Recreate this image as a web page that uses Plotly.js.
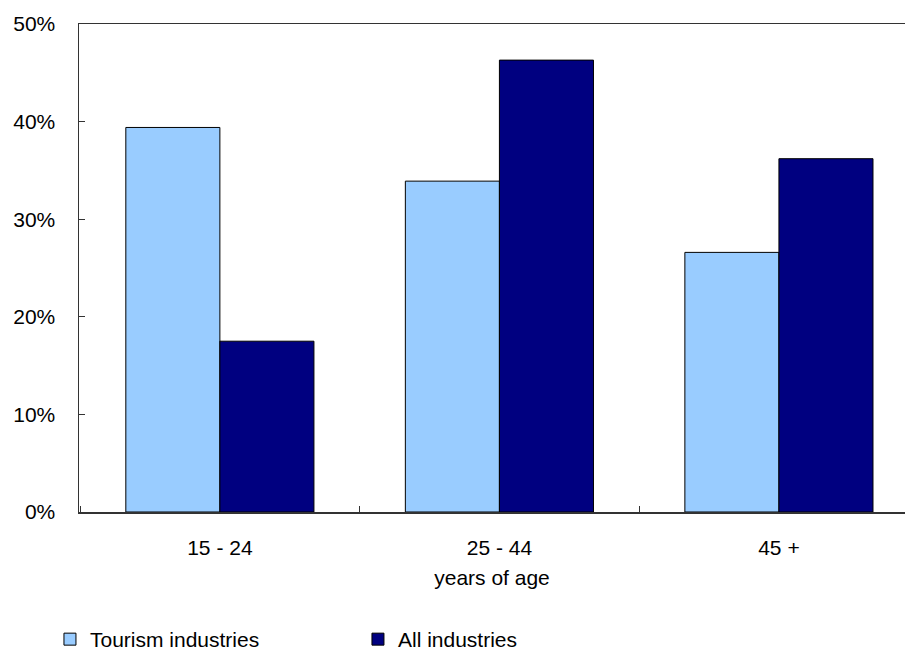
<!DOCTYPE html>
<html>
<head>
<meta charset="utf-8">
<script src="https://cdn.plot.ly/plotly-3.0.1.min.js"></script>
<style>html,body{margin:0;padding:0;background:#fff;}#chart{width:905px;height:656px;}</style>
</head>
<body>
<div id="chart"></div>
<script>
var categories = ["15 - 24", "25 - 44", "45 +"];
var tourismValues = [39.4, 33.9, 26.6];
var allValues = [17.5, 46.3, 36.2];
var seriesNames = ["Tourism industries", "All industries"];
var yTickVals = [0, 10, 20, 30, 40, 50];
var yTickText = ["0%", "10%", "20%", "30%", "40%", "50%"];

var traces = [
  {type: "bar", name: seriesNames[0], x: categories, y: tourismValues,
   marker: {color: "#99CCFF", line: {color: "#000000", width: 1}}, hoverinfo: "none"},
  {type: "bar", name: seriesNames[1], x: categories, y: allValues,
   marker: {color: "#000080", line: {color: "#000000", width: 1}}, hoverinfo: "none"}
];

var layout = {
  width: 905, height: 656,
  margin: {l: 79, r: 0, t: 24, b: 144, autoexpand: false},
  paper_bgcolor: "#ffffff", plot_bgcolor: "#ffffff",
  font: {family: "Liberation Sans, Arial, sans-serif", size: 21, color: "#000000"},
  barmode: "group", bargap: 0.327, bargroupgap: 0,
  showlegend: true,
  legend: {orientation: "h", x: 0.0552, xref: "container", xanchor: "left", y: 0.0564, yref: "container", yanchor: "top",
           font: {size: 21}, entrywidth: 263, entrywidthmode: "pixels", traceorder: "normal"},
  xaxis: {type: "category", range: [-0.504, 2.451], showline: true, linecolor: "#333333", linewidth: 1.5,
          mirror: true, ticks: "inside", ticklen: 6, tickcolor: "#333333", tickson: "boundaries",
          showgrid: false, zeroline: false, fixedrange: true, ticklabelstandoff: 16, automargin: false,
          title: {text: "years of age", standoff: 12, font: {size: 21}}},
  yaxis: {range: [0, 50], tickvals: yTickVals, ticktext: yTickText, showline: true, linecolor: "#333333",
          linewidth: 1.5, mirror: false, ticks: "inside", ticklen: 6, tickcolor: "#333333", automargin: false,
          showgrid: false, zeroline: false, fixedrange: true, ticklabelstandoff: 18}
};

Plotly.newPlot("chart", traces, layout, {displayModeBar: false, staticPlot: true});
</script>
</body>
</html>
